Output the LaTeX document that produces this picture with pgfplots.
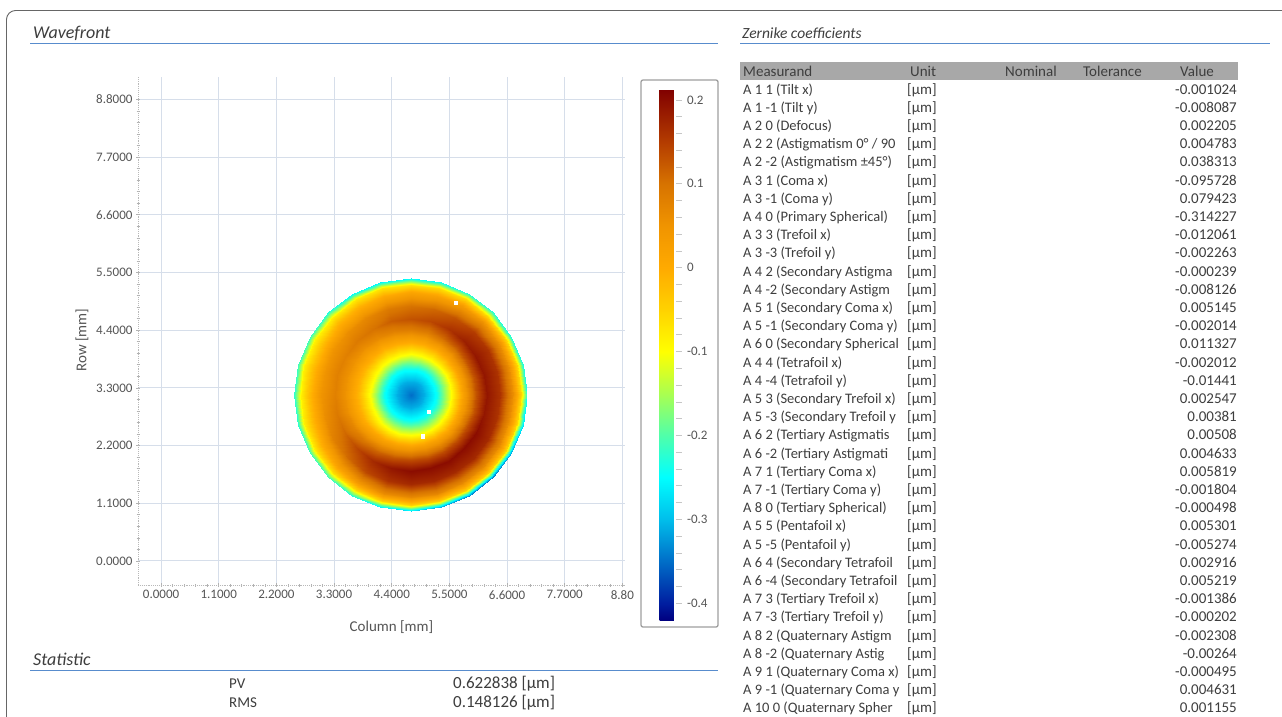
\documentclass[border=0pt]{standalone}
\usepackage{fontspec}
\setmainfont{Carlito}
\usepackage{pgfplots}
\usepackage{pgfplotstable}
\pgfplotsset{compat=1.18}
\definecolor{txt}{RGB}{62,62,62}
\definecolor{tickc}{RGB}{85,85,85}
\definecolor{gridc}{RGB}{214,222,234}
\definecolor{hdr}{RGB}{168,168,168}
\definecolor{rulec}{RGB}{88,140,205}
\pgfplotsset{colormap={wf}{rgb255(0pt)=(0,0,128); rgb255(20pt)=(0,30,160); rgb255(70pt)=(0,110,200); rgb255(120pt)=(0,190,235); rgb255(170pt)=(0,255,255); rgb255(220pt)=(80,255,170); rgb255(270pt)=(170,255,80); rgb255(320pt)=(255,255,0); rgb255(370pt)=(255,210,0); rgb255(420pt)=(255,170,0); rgb255(470pt)=(240,148,0); rgb255(520pt)=(215,115,0); rgb255(570pt)=(180,60,0); rgb255(633pt)=(128,0,0)}}
% wavefront sampled on rings (r = 0 ... 2.22 mm) every 15 degrees
\pgfplotstableread{
x y z
4.76 3.17 -0.35
4.76 3.17 -0.35
4.76 3.17 -0.35
4.76 3.17 -0.35
4.76 3.17 -0.35
4.76 3.17 -0.35
4.76 3.17 -0.35
4.76 3.17 -0.35
4.76 3.17 -0.35
4.76 3.17 -0.35
4.76 3.17 -0.35
4.76 3.17 -0.35
4.76 3.17 -0.35
4.76 3.17 -0.35
4.76 3.17 -0.35
4.76 3.17 -0.35
4.76 3.17 -0.35
4.76 3.17 -0.35
4.76 3.17 -0.35
4.76 3.17 -0.35
4.76 3.17 -0.35
4.76 3.17 -0.35
4.76 3.17 -0.35
4.76 3.17 -0.35
4.76 3.17 -0.35
5.01 3.17 -0.31
5.002 3.235 -0.31
4.977 3.295 -0.31
4.937 3.347 -0.31
4.885 3.387 -0.31
4.825 3.412 -0.31
4.76 3.42 -0.31
4.695 3.412 -0.31
4.635 3.387 -0.31
4.583 3.347 -0.31
4.543 3.295 -0.31
4.518 3.235 -0.31
4.51 3.17 -0.31
4.518 3.105 -0.31
4.543 3.045 -0.31
4.583 2.993 -0.31
4.635 2.953 -0.31
4.695 2.928 -0.31
4.76 2.92 -0.31
4.825 2.928 -0.31
4.885 2.953 -0.31
4.937 2.993 -0.31
4.977 3.045 -0.31
5.002 3.105 -0.31
5.01 3.17 -0.31
5.26 3.17 -0.24
5.243 3.299 -0.24
5.193 3.42 -0.24
5.114 3.524 -0.24
5.01 3.603 -0.24
4.889 3.653 -0.24
4.76 3.67 -0.24
4.631 3.653 -0.24
4.51 3.603 -0.24
4.406 3.524 -0.24
4.327 3.42 -0.24
4.277 3.299 -0.24
4.26 3.17 -0.24
4.277 3.041 -0.24
4.327 2.92 -0.24
4.406 2.816 -0.24
4.51 2.737 -0.24
4.631 2.687 -0.24
4.76 2.67 -0.24
4.889 2.687 -0.24
5.01 2.737 -0.24
5.114 2.816 -0.24
5.193 2.92 -0.24
5.243 3.041 -0.24
5.26 3.17 -0.24
5.51 3.17 -0.11
5.484 3.364 -0.11
5.41 3.545 -0.11
5.29 3.7 -0.11
5.135 3.82 -0.11
4.954 3.894 -0.11
4.76 3.92 -0.11
4.566 3.894 -0.11
4.385 3.82 -0.11
4.23 3.7 -0.11
4.11 3.545 -0.11
4.036 3.364 -0.11
4.01 3.17 -0.11
4.036 2.976 -0.11
4.11 2.795 -0.11
4.23 2.64 -0.11
4.385 2.52 -0.11
4.566 2.446 -0.11
4.76 2.42 -0.11
4.954 2.446 -0.11
5.135 2.52 -0.11
5.29 2.64 -0.11
5.41 2.795 -0.11
5.484 2.976 -0.11
5.51 3.17 -0.11
5.76 3.17 0.020
5.726 3.429 0.020
5.626 3.67 0.020
5.467 3.877 0.017
5.26 4.036 0.011
5.019 4.136 0.005
4.76 4.17 0.002
4.501 4.136 -0.001
4.26 4.036 -0.007
4.053 3.877 -0.010
3.894 3.67 -0.013
3.794 3.429 -0.013
3.76 3.17 -0.013
3.794 2.911 -0.010
3.894 2.67 -0.004
4.053 2.463 0.005
4.26 2.304 0.014
4.501 2.204 0.020
4.76 2.17 0.023
5.019 2.204 0.023
5.26 2.304 0.023
5.467 2.463 0.023
5.626 2.67 0.023
5.726 2.911 0.020
5.76 3.17 0.020
6.01 3.17 0.130
5.967 3.494 0.130
5.843 3.795 0.130
5.644 4.054 0.123
5.385 4.253 0.109
5.084 4.377 0.095
4.76 4.42 0.088
4.436 4.377 0.081
4.135 4.253 0.067
3.876 4.054 0.060
3.677 3.795 0.053
3.553 3.494 0.053
3.51 3.17 0.053
3.553 2.846 0.060
3.677 2.545 0.074
3.876 2.286 0.095
4.135 2.087 0.116
4.436 1.963 0.130
4.76 1.92 0.137
5.084 1.963 0.137
5.385 2.087 0.137
5.644 2.286 0.137
5.843 2.545 0.137
5.967 2.846 0.130
6.01 3.17 0.130
6.21 3.17 0.19
6.161 3.545 0.19
6.016 3.895 0.19
5.785 4.195 0.18
5.485 4.426 0.16
5.135 4.571 0.14
4.76 4.62 0.13
4.385 4.571 0.12
4.035 4.426 0.10
3.735 4.195 0.09
3.504 3.895 0.08
3.359 3.545 0.08
3.31 3.17 0.08
3.359 2.795 0.09
3.504 2.445 0.11
3.735 2.145 0.14
4.035 1.914 0.17
4.385 1.769 0.19
4.76 1.72 0.20
5.135 1.769 0.20
5.485 1.914 0.20
5.785 2.145 0.20
6.016 2.445 0.20
6.161 2.795 0.19
6.21 3.17 0.19
6.46 3.17 0.16
6.402 3.61 0.16
6.232 4.02 0.16
5.962 4.372 0.15
5.61 4.642 0.13
5.2 4.812 0.11
4.76 4.87 0.10
4.32 4.812 0.09
3.91 4.642 0.07
3.558 4.372 0.06
3.288 4.02 0.05
3.118 3.61 0.05
3.06 3.17 0.05
3.118 2.73 0.06
3.288 2.32 0.08
3.558 1.968 0.11
3.91 1.698 0.14
4.32 1.528 0.16
4.76 1.47 0.17
5.2 1.528 0.17
5.61 1.698 0.17
5.962 1.968 0.17
6.232 2.32 0.17
6.402 2.73 0.16
6.46 3.17 0.16
6.71 3.17 0.060
6.644 3.675 0.060
6.449 4.145 0.060
6.139 4.549 0.052
5.735 4.859 0.036
5.265 5.054 0.020
4.76 5.12 0.012
4.255 5.054 0.004
3.785 4.859 -0.012
3.381 4.549 -0.020
3.071 4.145 -0.028
2.876 3.675 -0.028
2.81 3.17 -0.028
2.876 2.665 -0.020
3.071 2.195 -0.004
3.381 1.791 0.020
3.785 1.481 0.044
4.255 1.286 0.060
4.76 1.22 0.068
5.265 1.286 0.068
5.735 1.481 0.068
6.139 1.791 0.068
6.449 2.195 0.068
6.644 2.665 0.060
6.71 3.17 0.060
6.86 3.17 -0.050
6.788 3.714 -0.050
6.579 4.22 -0.050
6.245 4.655 -0.053
5.81 4.989 -0.059
5.304 5.198 -0.065
4.76 5.27 -0.068
4.216 5.198 -0.071
3.71 4.989 -0.077
3.275 4.655 -0.080
2.941 4.22 -0.083
2.732 3.714 -0.083
2.66 3.17 -0.083
2.732 2.626 -0.080
2.941 2.12 -0.074
3.275 1.685 -0.065
3.71 1.351 -0.056
4.216 1.142 -0.050
4.76 1.07 -0.047
5.304 1.142 -0.047
5.81 1.351 -0.047
6.245 1.685 -0.047
6.579 2.12 -0.047
6.788 2.626 -0.050
6.86 3.17 -0.050
6.98 3.17 -0.23
6.904 3.745 -0.23
6.683 4.28 -0.23
6.33 4.74 -0.23
5.87 5.093 -0.23
5.335 5.314 -0.25
4.76 5.39 -0.26
4.185 5.314 -0.26
3.65 5.093 -0.25
3.19 4.74 -0.23
2.837 4.28 -0.21
2.616 3.745 -0.21
2.54 3.17 -0.22
2.616 2.595 -0.22
2.837 2.06 -0.21
3.19 1.6 -0.21
3.65 1.247 -0.23
4.185 1.026 -0.26
4.76 0.95 -0.28
5.335 1.026 -0.31
5.87 1.247 -0.34
6.33 1.6 -0.34
6.683 2.06 -0.31
6.904 2.595 -0.27
6.98 3.17 -0.23
}\wfdata
\tikzset{tb/.style={font=\fontsize{15pt}{18pt}\selectfont, text=txt, inner sep=0pt},
         tn/.style={font=\fontsize{14.5pt}{18pt}\selectfont, text=txt, inner sep=0pt}}
\newcommand\zrow[3]{%
  \node[tn,anchor=base west] at (743pt,{-75.8pt-18.2pt*#1}) {#2};
  \node[tb,anchor=base west] at (907pt,{-75.8pt-18.2pt*#1}) {[µm]};
  \node[tb,anchor=base east] at (1237pt,{-75.8pt-18.2pt*#1}) {#3};}
\begin{document}
\begin{tikzpicture}
\useasboundingbox (0pt,0pt) rectangle (1282pt,-716pt);
\fill[white] (0pt,0pt) rectangle (1282pt,-716pt);
% panel frame
\draw[gray!80!black, line width=0.9pt, rounded corners=9pt] (6.5pt,-740pt) -- (6.5pt,-10.5pt) -- (1300pt,-10.5pt);
% section titles
\node[anchor=base west, inner sep=0pt, font=\fontsize{18pt}{21pt}\selectfont\itshape, text=txt] at (33pt,-38pt) {Wavefront};
\node[anchor=base west, inner sep=0pt, font=\fontsize{15.5pt}{18pt}\selectfont\itshape, text=txt] at (742pt,-38pt) {Zernike coefficients};
\node[anchor=base west, inner sep=0pt, font=\fontsize{18pt}{21pt}\selectfont\itshape, text=txt] at (33pt,-665pt) {Statistic};
\draw[rulec, line width=1.6pt] (30pt,-43.5pt) -- (718pt,-43.5pt);
\draw[rulec, line width=1.6pt] (740pt,-43.5pt) -- (1270pt,-43.5pt);
\draw[rulec, line width=1.6pt] (30pt,-670.5pt) -- (718pt,-670.5pt);
% statistic rows
\node[anchor=base west, inner sep=0pt, font=\fontsize{15pt}{18pt}\selectfont, text=txt] at (229pt,-688pt) {PV};
\node[anchor=base west, inner sep=0pt, font=\fontsize{17pt}{19pt}\selectfont, text=txt] at (453pt,-688pt) {0.622838 [µm]};
\node[anchor=base west, inner sep=0pt, font=\fontsize{15pt}{18pt}\selectfont, text=txt] at (229pt,-707pt) {RMS};
\node[anchor=base west, inner sep=0pt, font=\fontsize{17pt}{19pt}\selectfont, text=txt] at (453pt,-707pt) {0.148126 [µm]};
% wavefront map
\begin{axis}[
  at={(138pt,-585pt)}, anchor=south west,
  scale only axis, width=487pt, height=508pt,
  xmin=-0.44, xmax=8.85, ymin=-0.458, ymax=9.228,
  xtick={0,1.1,2.2,3.3,4.4,5.5,6.6,7.7,8.8},
  xticklabels={0.0000,1.1000,2.2000,3.3000,4.4000,5.5000,6.6000,7.7000,8.80},
  ytick={0,1.1,2.2,3.3,4.4,5.5,6.6,7.7,8.8},
  yticklabels={0.0000,1.1000,2.2000,3.3000,4.4000,5.5000,6.6000,7.7000,8.8000},
  minor tick num=4,
  grid=major,
  major grid style={draw=gridc, line width=1pt},
  axis x line*=bottom, axis y line*=left,
  axis line style={draw=gray!55, densely dotted, line width=0.9pt, -},
  tick style={draw=gray!60, line width=0.7pt, solid},
  major tick length=4pt, minor tick length=3pt, tick align=center,
  ticklabel style={font=\fontsize{13pt}{15pt}\selectfont, text=tickc},
  xlabel={Column [mm]}, ylabel={Row [mm]},
  label style={font=\fontsize{15pt}{18pt}\selectfont, text=tickc},
  xlabel style={at={(axis description cs:0.5,0)}, anchor=center, xshift=10pt, yshift=-42pt},
  ylabel style={at={(axis description cs:-0.115,0.482)}, anchor=center},
  colormap name=wf, point meta min=-0.42, point meta max=0.213,
  colorbar,
  colorbar style={
    at={(parent axis.north east)}, anchor=north west, xshift=26pt, yshift=-12pt,
    scale only axis, width=16pt, height=531pt,
    grid=none, axis line style={draw=none},
    ytick={-0.4,-0.3,-0.2,-0.1,0,0.1,0.2},
    yticklabels={-0.4,-0.3,-0.2,-0.1,0,0.1,0.2},
    minor y tick num=4, ytick pos=right, yticklabel pos=right,
    tick align=outside, major tick length=6pt, minor tick length=6pt,
    tick style={draw=gray!45, line width=0.7pt},
    yticklabel style={font=\fontsize{13pt}{15pt}\selectfont, text=tickc, xshift=2pt},
  },
]
\addplot[surf, shader=interp, mesh/cols=25, point meta=explicit] table[x=x, y=y, meta=z] {\wfdata};
\addplot[only marks, mark=square*, mark size=1.6pt, draw=white, fill=white] coordinates {(5.62,4.92) (5.11,2.84) (4.99,2.38)};
\end{axis}
% colorbar frame
\draw[gray!75, line width=1.3pt, rounded corners=2pt] (641pt,-80pt) rectangle (718pt,-627pt);
% Zernike table header
\fill[hdr] (740pt,-62pt) rectangle (1238pt,-80pt);
\node[tb,anchor=base west] at (743pt,-76pt) {Measurand};
\node[tb,anchor=base west] at (910pt,-76pt) {Unit};
\node[tb,anchor=base west] at (1005pt,-76pt) {Nominal};
\node[tb,anchor=base west] at (1083pt,-76pt) {Tolerance};
\node[tb,anchor=base west] at (1180pt,-76pt) {Value};
\zrow{1}{A 1 1 (Tilt x)}{-0.001024}
\zrow{2}{A 1 -1 (Tilt y)}{-0.008087}
\zrow{3}{A 2 0 (Defocus)}{0.002205}
\zrow{4}{A 2 2 (Astigmatism 0° / 90}{0.004783}
\zrow{5}{A 2 -2 (Astigmatism ±45°)}{0.038313}
\zrow{6}{A 3 1 (Coma x)}{-0.095728}
\zrow{7}{A 3 -1 (Coma y)}{0.079423}
\zrow{8}{A 4 0 (Primary Spherical)}{-0.314227}
\zrow{9}{A 3 3 (Trefoil x)}{-0.012061}
\zrow{10}{A 3 -3 (Trefoil y)}{-0.002263}
\zrow{11}{A 4 2 (Secondary Astigma}{-0.000239}
\zrow{12}{A 4 -2 (Secondary Astigm}{-0.008126}
\zrow{13}{A 5 1 (Secondary Coma x)}{0.005145}
\zrow{14}{A 5 -1 (Secondary Coma y)}{-0.002014}
\zrow{15}{A 6 0 (Secondary Spherical}{0.011327}
\zrow{16}{A 4 4 (Tetrafoil x)}{-0.002012}
\zrow{17}{A 4 -4 (Tetrafoil y)}{-0.01441}
\zrow{18}{A 5 3 (Secondary Trefoil x)}{0.002547}
\zrow{19}{A 5 -3 (Secondary Trefoil y}{0.00381}
\zrow{20}{A 6 2 (Tertiary Astigmatis}{0.00508}
\zrow{21}{A 6 -2 (Tertiary Astigmati}{0.004633}
\zrow{22}{A 7 1 (Tertiary Coma x)}{0.005819}
\zrow{23}{A 7 -1 (Tertiary Coma y)}{-0.001804}
\zrow{24}{A 8 0 (Tertiary Spherical)}{-0.000498}
\zrow{25}{A 5 5 (Pentafoil x)}{0.005301}
\zrow{26}{A 5 -5 (Pentafoil y)}{-0.005274}
\zrow{27}{A 6 4 (Secondary Tetrafoil}{0.002916}
\zrow{28}{A 6 -4 (Secondary Tetrafoil}{0.005219}
\zrow{29}{A 7 3 (Tertiary Trefoil x)}{-0.001386}
\zrow{30}{A 7 -3 (Tertiary Trefoil y)}{-0.000202}
\zrow{31}{A 8 2 (Quaternary Astigm}{-0.002308}
\zrow{32}{A 8 -2 (Quaternary Astig}{-0.00264}
\zrow{33}{A 9 1 (Quaternary Coma x)}{-0.000495}
\zrow{34}{A 9 -1 (Quaternary Coma y}{0.004631}
\zrow{35}{A 10 0 (Quaternary Spher}{0.001155}
\end{tikzpicture}
\end{document}
